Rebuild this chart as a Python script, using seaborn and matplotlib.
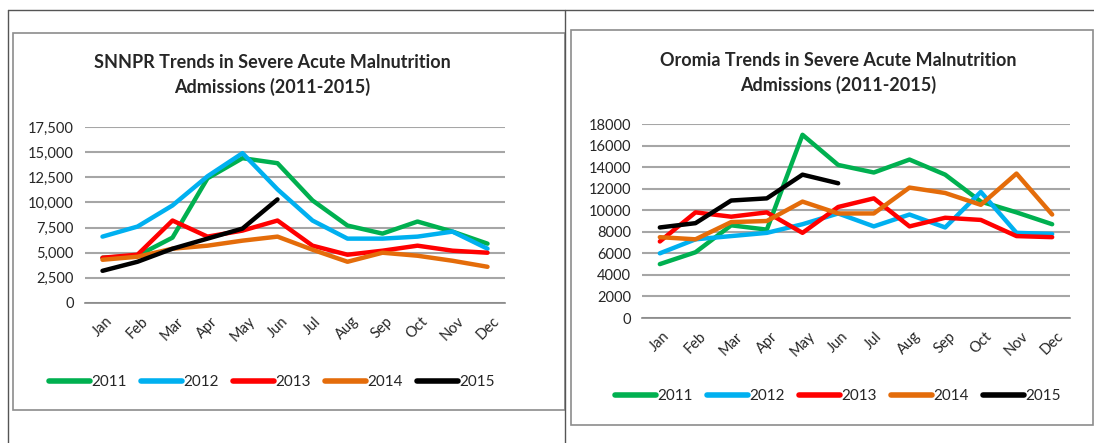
import numpy as np
import pandas as pd
import seaborn as sns
import matplotlib.pyplot as plt
from matplotlib.lines import Line2D
from matplotlib.patches import Rectangle
from matplotlib.ticker import FuncFormatter

months = ["Jan", "Feb", "Mar", "Apr", "May", "Jun", "Jul", "Aug", "Sep", "Oct", "Nov", "Dec"]
years = ["2011", "2012", "2013", "2014", "2015"]
colors = ["#00B050", "#00B0F0", "#FF0000", "#E46C0A", "#000000"]

# SNNPR admissions
snnpr_2011 = [4500, 4700, 6500, 12400, 14400, 13900, 10200, 7700, 6900, 8100, 7100, 5900]
snnpr_2012 = [6600, 7600, 9700, 12600, 14900, 11300, 8200, 6400, 6400, 6600, 7100, 5400]
snnpr_2013 = [4500, 4800, 8200, 6600, 7200, 8200, 5700, 4800, 5200, 5700, 5200, 5000]
snnpr_2014 = [4300, 4600, 5400, 5700, 6200, 6600, 5300, 4100, 5000, 4700, 4200, 3600]
snnpr_2015 = [3200, 4100, 5400, 6400, 7400, 10300]

# Oromia admissions
oromia_2011 = [5000, 6100, 8600, 8200, 17000, 14200, 13500, 14700, 13300, 10800, 9800, 8700]
oromia_2012 = [6000, 7300, 7600, 7900, 8700, 9700, 8500, 9600, 8400, 11700, 7900, 7800]
oromia_2013 = [7100, 9800, 9400, 9800, 7900, 10300, 11100, 8500, 9300, 9100, 7600, 7500]
oromia_2014 = [7500, 7300, 8900, 9000, 10800, 9700, 9700, 12100, 11600, 10500, 13400, 9600]
oromia_2015 = [8400, 8800, 10900, 11100, 13300, 12500]


def to_frame(series):
    rows = []
    for yr, vals in zip(years, series):
        for i, v in enumerate(vals):
            rows.append({"month": i, "year": yr, "value": v})
    return pd.DataFrame(rows)


snnpr = to_frame([snnpr_2011, snnpr_2012, snnpr_2013, snnpr_2014, snnpr_2015])
oromia = to_frame([oromia_2011, oromia_2012, oromia_2013, oromia_2014, oromia_2015])

sns.set_style("white")
plt.rcParams["font.family"] = ["Lato", "DejaVu Sans"]

W, H = 1094, 443
fig = plt.figure(figsize=(W / 100, H / 100), dpi=100)


def px_axes(x0, y0, x1, y1):
    return fig.add_axes([x0 / W, 1 - y1 / H, (x1 - x0) / W, (y1 - y0) / H])


# page lines and chart frames
fig.add_artist(Line2D([8 / W, 1], [1 - 10 / H, 1 - 10 / H], color="#555555", lw=1))
fig.add_artist(Line2D([8 / W, 8 / W], [0, 1 - 10 / H], color="#555555", lw=1))
fig.add_artist(Line2D([565 / W, 565 / W], [0, 1 - 10 / H], color="#555555", lw=1))
fig.add_artist(Rectangle((13 / W, 1 - 410 / H), (565 - 13) / W, (410 - 33) / H,
                         fill=False, ec="#8C8C8C", lw=1.2))
fig.add_artist(Rectangle((571 / W, 1 - 425 / H), (1093 - 571) / W, (425 - 30) / H,
                         fill=False, ec="#8C8C8C", lw=1.2))


def draw(ax, df, ymax, step, fmt, title, title_xy, legend_y):
    sns.lineplot(data=df, x="month", y="value", hue="year", palette=colors,
                 hue_order=years, linewidth=3.2, ax=ax, legend=False)
    ax.set_xlim(-0.5, 11.5)
    ax.set_ylim(0, ymax)
    ax.set_yticks(np.arange(0, ymax + 1, step))
    ax.yaxis.set_major_formatter(FuncFormatter(fmt))
    ax.set_xticks(range(12))
    ax.set_xticklabels(months, rotation=45, fontsize=10.5)
    ax.set_xticks(np.arange(-0.5, 12, 1), minor=True)
    ax.tick_params(axis="x", which="major", length=0, pad=8)
    ax.tick_params(axis="x", which="minor", length=5, color="#888888", direction="out")
    ax.tick_params(axis="y", length=0, labelsize=10.5, pad=8)
    ax.grid(axis="y", color="#A6A6A6", lw=1.5)
    ax.set_axisbelow(True)
    for s in ["top", "right", "left"]:
        ax.spines[s].set_visible(False)
    ax.spines["bottom"].set_color("#888888")
    ax.spines["bottom"].set_linewidth(1.2)
    ax.set_xlabel("")
    ax.set_ylabel("")
    fig.text(title_xy[0] / W, 1 - title_xy[1] / H, title, ha="center", va="center",
             fontsize=13, fontweight="bold", linespacing=1.5)
    handles = [Line2D([0], [0], color=c, lw=4) for c in colors]
    fig.legend(handles, years, loc="center", ncol=5, frameon=False, fontsize=11,
               bbox_to_anchor=(title_xy[0] / W, 1 - legend_y / H),
               handlelength=2.7, handletextpad=0.1, columnspacing=0.9)


ax1 = px_axes(85, 127, 505, 303)
draw(ax1, snnpr, 17500, 2500, lambda v, p: f"{int(v):,}",
     "SNNPR Trends in Severe Acute Malnutrition\nAdmissions (2011-2015)", (272, 75), 382)

ax2 = px_axes(642, 124, 1070, 318)
draw(ax2, oromia, 18000, 2000, lambda v, p: f"{int(v)}",
     "Oromia Trends in Severe Acute Malnutrition\nAdmissions (2011-2015)", (838, 73), 396)

fig.savefig("out.png", dpi=100)
